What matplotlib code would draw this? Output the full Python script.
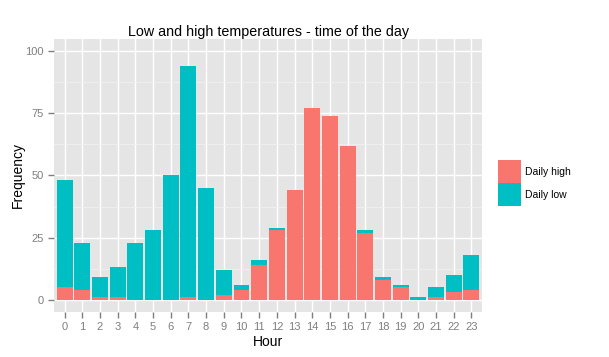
import numpy as np
import matplotlib
matplotlib.use("Agg")
import matplotlib.pyplot as plt
from matplotlib.patches import Patch

plt.rcParams['font.family'] = ['Liberation Sans', 'DejaVu Sans']

hours = list(range(24))
total = [48, 23, 9, 13, 23, 28, 50, 94, 45, 12, 6, 16,
         29, 44, 77, 74, 62, 28, 9, 6, 1, 5, 10, 18]
daily_high = [5, 4, 1, 1, 0, 0, 0, 1, 0, 2, 4, 14,
              28, 44, 77, 74, 62, 27, 8, 5, 0, 1, 3, 4]
daily_low = [t - h for t, h in zip(total, daily_high)]

red = '#F8766D'
teal = '#00BFC4'

fig = plt.figure(figsize=(6.09, 3.57), dpi=100)
ax = fig.add_axes([0.0887, 0.126, 0.7028, 0.765])
ax.set_facecolor('#E5E5E5')

x = np.arange(len(hours))
ax.bar(x, daily_high, width=0.9, color=red, zorder=3)
ax.bar(x, daily_low, width=0.9, bottom=daily_high, color=teal, zorder=3)

ax.set_xlim(-0.6, 23.6)
ax.set_ylim(-5, 105)
ax.set_xticks(x)
ax.set_xticklabels([str(h) for h in hours])
ax.set_yticks([0, 25, 50, 75, 100])
ax.set_yticks([12.5, 37.5, 62.5, 87.5], minor=True)
ax.grid(True, which='major', color='white', linewidth=1.0, zorder=0)
ax.grid(True, which='minor', axis='y', color='#F2F2F2', linewidth=0.5, zorder=0)
ax.set_axisbelow(True)
for s in ax.spines.values():
    s.set_visible(False)
ax.tick_params(axis='both', which='major', colors='#7F7F7F', labelsize=8,
               length=4, width=1, labelcolor='#7F7F7F')
ax.tick_params(axis='y', which='minor', length=0)

ax.set_title('Low and high temperatures - time of the day', fontsize=10.3, pad=2)
ax.set_xlabel('Hour', fontsize=10, labelpad=1.5)
ax.set_ylabel('Frequency', fontsize=10, labelpad=0.5)

# legend keys drawn as ~23px squares, stacked with no gap
handles = [Patch(facecolor=red, edgecolor='none', label='Daily high'),
           Patch(facecolor=teal, edgecolor='none', label='Daily low')]
fig.legend(handles=handles, loc='center left', bbox_to_anchor=(0.81, 0.487),
           frameon=False, fontsize=7.5, handlelength=2.2, handleheight=3.0,
           labelspacing=0, handletextpad=0.35, borderpad=0)

fig.savefig('out.png', dpi=100)
